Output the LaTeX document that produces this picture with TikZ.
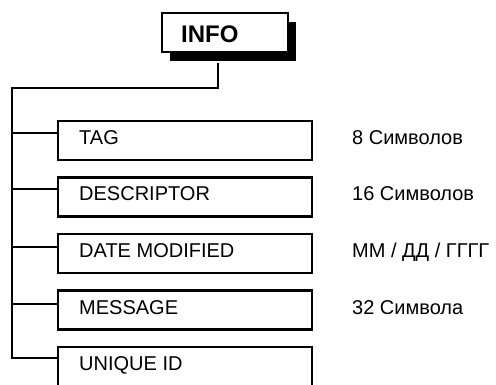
\documentclass[tikz,border=0pt]{standalone}
\usepackage{fontspec}
\setmainfont{Liberation Sans}
\usetikzlibrary{shadows}
\begin{document}
\begin{tikzpicture}[x=1pt, y=-1pt,
  field/.style={draw, line width=2.6pt, minimum width=254pt, minimum height=39pt, inner sep=0pt},
  fieldtext/.style={anchor=base west, inner sep=0pt, font=\fontsize{20}{24}\selectfont},
  sizetext/.style={anchor=base west, inner sep=0pt, font=\fontsize{20}{24}\selectfont},
  link/.style={line width=2.6pt}]
\useasboundingbox (0,0) rectangle (496,385);

% head box
\node[draw, line width=2.2pt, fill=white, minimum width=126pt, minimum height=39pt,
  drop shadow={shadow xshift=8pt, shadow yshift=-9pt, fill=black, opacity=1}] (info) at (225,32.5) {};
\node[anchor=base west, inner sep=0pt, font=\bfseries\fontsize{24}{28}\selectfont] (infotext) at (181,43) {INFO};

% fields
\node[field] (tag) at (185,140.5) {};
\node[field] (desc) at (185,197) {};
\node[field] (date) at (185,253.5) {};
\node[field] (msg) at (185,310) {};
\node[field] (uid) at (185,366.5) {};

\node[fieldtext] (tagtext) at (79,144.5) {TAG};
\node[fieldtext] (desctext) at (79,201) {DESCRIPTOR};
\node[fieldtext] (datetext) at (79,257.5) {DATE MODIFIED};
\node[fieldtext] (msgtext) at (79,314) {MESSAGE};
\node[fieldtext] (uidtext) at (79,370.5) {UNIQUE ID};

% sizes
\node[sizetext] (tagsize) at (352,144.5) {8 Символов};
\node[sizetext] (descsize) at (352,201) {16 Символов};
\node[sizetext] (datesize) at (352,257.5) {ММ / ДД / ГГГГ};
\node[sizetext] (msgsize) at (352,314) {32 Символа};

% tree
\coordinate (stem) at (218,63);
\coordinate (knee) at (12,88);
\coordinate (j1) at (12,133);
\coordinate (j2) at (12,189);
\coordinate (j3) at (12,247);
\coordinate (j4) at (12,304);
\coordinate (j5) at (12,358);
\draw[link] (stem) |- (knee) -- (j5) -- (j5 -| uid.west);
\draw[link] (j1) -- (j1 -| tag.west);
\draw[link] (j2) -- (j2 -| desc.west);
\draw[link] (j3) -- (j3 -| date.west);
\draw[link] (j4) -- (j4 -| msg.west);
\end{tikzpicture}
\end{document}
